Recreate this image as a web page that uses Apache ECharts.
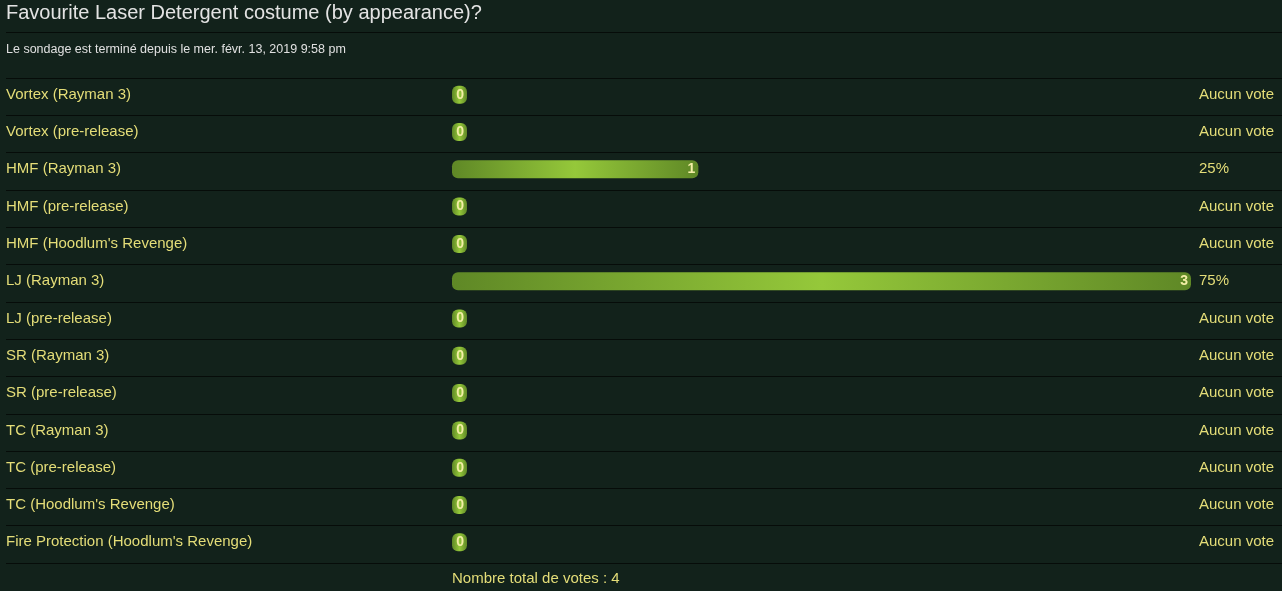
<!DOCTYPE html>
<html><head><meta charset="utf-8">
<script src="https://cdn.jsdelivr.net/npm/echarts@6/dist/echarts.min.js"></script>
<style>html,body{margin:0;padding:0;background:#12221b;}#c{width:1282px;height:591px;}</style>
</head><body><div id="c"></div>
<script>
const categories = ["Vortex (Rayman 3)","Vortex (pre-release)","HMF (Rayman 3)","HMF (pre-release)","HMF (Hoodlum's Revenge)","LJ (Rayman 3)","LJ (pre-release)","SR (Rayman 3)","SR (pre-release)","TC (Rayman 3)","TC (pre-release)","TC (Hoodlum's Revenge)","Fire Protection (Hoodlum's Revenge)"];
const votes = [0,0,1,0,0,3,0,0,0,0,0,0,0];
const resultLabels = ["Aucun vote","Aucun vote","25%","Aucun vote","Aucun vote","75%","Aucun vote","Aucun vote","Aucun vote","Aucun vote","Aucun vote","Aucun vote","Aucun vote"];
const titleText = "Favourite Laser Detergent costume (by appearance)?";
const subtitleText = "Le sondage est terminé depuis le mer. févr. 13, 2019 9:58 pm";
const footerText = "Nombre total de votes : 4";

const FONT = "'Liberation Sans', Arial, sans-serif";
const YEL = '#e4dd78';
const SEP = '#060c09';
const chart = echarts.init(document.getElementById('c'));
chart.setOption({
  backgroundColor: '#12221b',
  animation: false,
  title: [
    {text: titleText, left: 6, top: 3, padding: 0, textStyle: {color: '#e3e3e3', fontSize: 20, fontWeight: 'normal', fontFamily: FONT}},
    {text: subtitleText, left: 6, top: 43, padding: 0, textStyle: {color: '#e0e0e0', fontSize: 12.5, fontWeight: 'normal', fontFamily: FONT}},
    {text: footerText, left: 452, top: 571, padding: 0, textStyle: {color: YEL, fontSize: 15, fontWeight: 'normal', fontFamily: FONT}}
  ],
  graphic: [
    {type: 'rect', shape: {x: 6, y: 32, width: 1276, height: 1}, style: {fill: SEP}, silent: true}
  ],
  grid: [
    {left: 6, right: 0, top: 78, bottom: 28, show: false},
    {left: 452, right: 91, top: 76, bottom: 30, show: false}
  ],
  xAxis: [
    {gridIndex: 0, type: 'value', show: false, min: 0, max: 1},
    {gridIndex: 1, type: 'value', show: false, min: 0, max: 3}
  ],
  yAxis: [
    {gridIndex: 0, type: 'category', data: categories, inverse: true,
     axisLine: {show: false}, axisTick: {show: false},
     splitLine: {show: true, lineStyle: {color: SEP, width: 1}},
     axisLabel: {inside: true, align: 'left', margin: 0, color: YEL, fontSize: 15, fontFamily: FONT, verticalAlign: 'bottom', lineHeight: 4}},
    {gridIndex: 1, type: 'category', data: resultLabels, inverse: true, position: 'right',
     axisLine: {show: false}, axisTick: {show: false}, splitLine: {show: false},
     axisLabel: {align: 'left', margin: 8, color: YEL, fontSize: 15, fontFamily: FONT, verticalAlign: 'bottom', lineHeight: 0.1}}
  ],
  series: [{
    type: 'bar', xAxisIndex: 1, yAxisIndex: 1, data: votes,
    barWidth: 18, barMinHeight: 15,
    itemStyle: {
      borderRadius: 6,
      color: new echarts.graphic.LinearGradient(0, 0, 1, 0, [
        {offset: 0, color: '#5f8826'}, {offset: 0.5, color: '#95c83a'}, {offset: 1, color: '#5f8826'}
      ])
    },
    label: {show: true, position: 'insideRight', distance: 3, color: '#f3eea6', fontSize: 14, fontWeight: 'bold', fontFamily: FONT, formatter: '{c}'}
  }]
});
</script></body></html>
